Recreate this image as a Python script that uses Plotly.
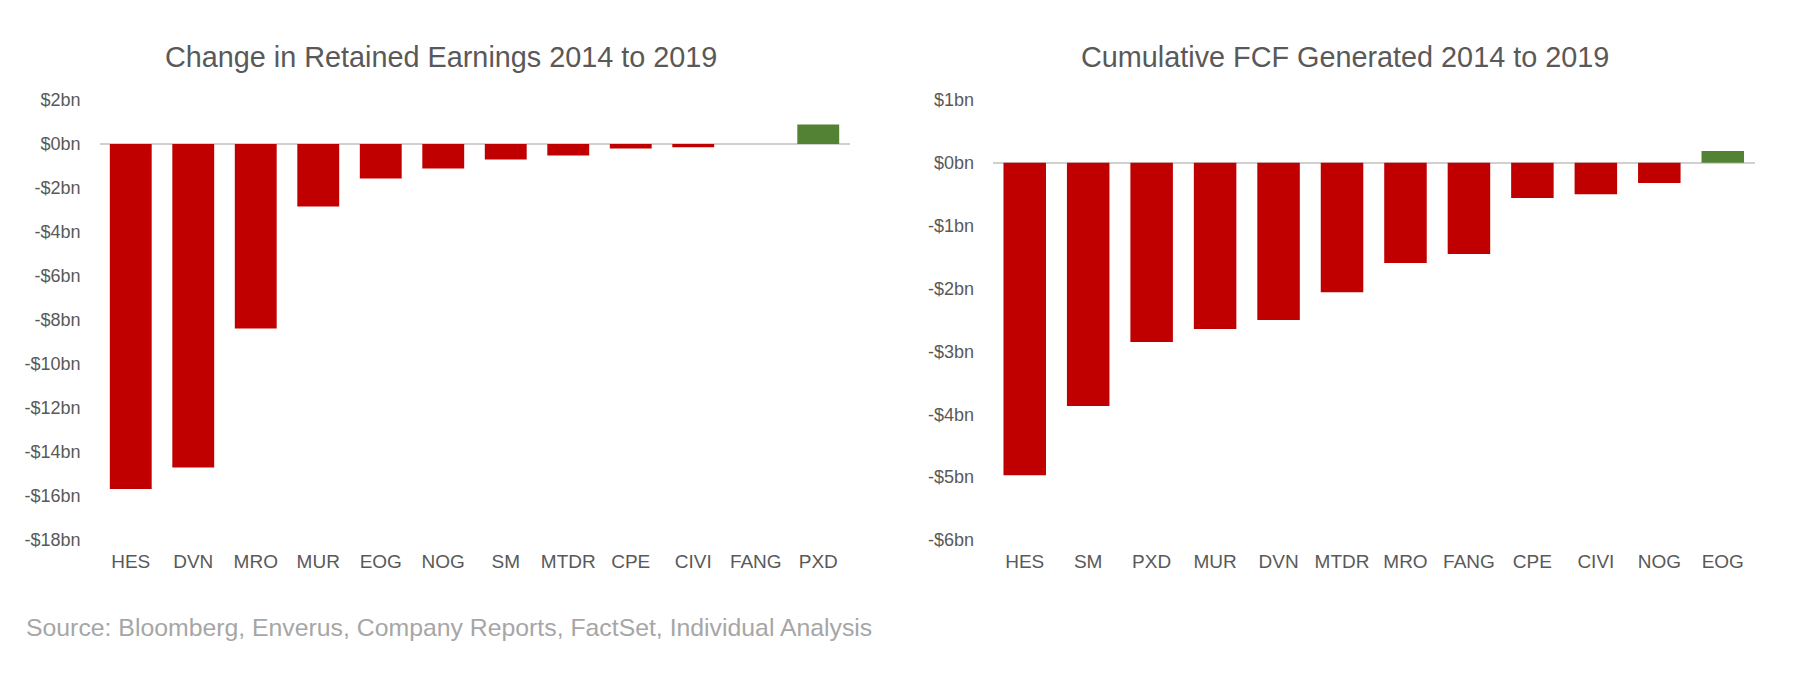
import plotly.graph_objects as go

# ---- Data ----
re_categories = ["HES", "DVN", "MRO", "MUR", "EOG", "NOG", "SM", "MTDR", "CPE", "CIVI", "FANG", "PXD"]
re_values = [-15.68, -14.7, -8.39, -2.84, -1.57, -1.11, -0.70, -0.52, -0.20, -0.15, 0.0, 0.89]

fcf_categories = ["HES", "SM", "PXD", "MUR", "DVN", "MTDR", "MRO", "FANG", "CPE", "CIVI", "NOG", "EOG"]
fcf_values = [-4.97, -3.87, -2.85, -2.645, -2.50, -2.06, -1.595, -1.45, -0.56, -0.50, -0.32, 0.19]

re_tickvals = [2, 0, -2, -4, -6, -8, -10, -12, -14, -16, -18]
re_ticktext = ["$2bn", "$0bn", "-$2bn", "-$4bn", "-$6bn", "-$8bn", "-$10bn", "-$12bn", "-$14bn", "-$16bn", "-$18bn"]
fcf_tickvals = [1, 0, -1, -2, -3, -4, -5, -6]
fcf_ticktext = ["$1bn", "$0bn", "-$1bn", "-$2bn", "-$3bn", "-$4bn", "-$5bn", "-$6bn"]

title_left = "Change in Retained Earnings 2014 to 2019"
title_right = "Cumulative FCF Generated 2014 to 2019"
source_text = "Source: Bloomberg, Enverus, Company Reports, FactSet, Individual Analysis"

RED = "#C00000"
GREEN = "#548235"
FONT = "Liberation Sans, Arial, Helvetica, sans-serif"
W, H = 1793, 680

def colors(vals):
    return [GREEN if v > 0 else RED for v in vals]

fig = go.Figure()
fig.add_trace(go.Bar(x=re_categories, y=re_values, marker_color=colors(re_values),
                     marker_line_width=0, xaxis="x", yaxis="y", showlegend=False))
fig.add_trace(go.Bar(x=fcf_categories, y=fcf_values, marker_color=colors(fcf_values),
                     marker_line_width=0, xaxis="x2", yaxis="y2", showlegend=False))

axis_font = dict(family=FONT, size=18, color="#595959")
cat_font = dict(family=FONT, size=19, color="#595959")
common_y = dict(showgrid=False, zeroline=True, zerolinecolor="#d0d0d0", zerolinewidth=2,
                showline=False, ticks="", tickfont=axis_font, ticklabelstandoff=18)
common_x = dict(showgrid=False, zeroline=False, showline=False, ticks="",
                tickfont=cat_font, ticklabelstandoff=8, type="category")

fig.update_layout(
    width=W, height=H,
    margin=dict(l=0, r=0, t=100, b=140),
    paper_bgcolor="white", plot_bgcolor="white",
    bargap=0.33,
    xaxis=dict(domain=[99.5 / W, 849.5 / W], anchor="y", **common_x),
    yaxis=dict(domain=[0, 1], anchor="x", range=[-18, 2], tickvals=re_tickvals,
               ticktext=re_ticktext, **common_y),
    xaxis2=dict(domain=[993 / W, 1754.5 / W], anchor="y2", **common_x),
    yaxis2=dict(domain=[0, 1], anchor="x2", range=[-6, 1], tickvals=fcf_tickvals,
                ticktext=fcf_ticktext, **common_y),
    font=dict(family=FONT),
)

def py(pix):
    # convert pixel y (from top) to paper y
    return (540 - pix) / 440

fig.add_annotation(text=title_left, x=441 / W, y=py(57.5), xref="paper", yref="paper",
                   xanchor="center", yanchor="middle", showarrow=False,
                   font=dict(family=FONT, size=28.8, color="#595959"))
fig.add_annotation(text=title_right, x=1345 / W, y=py(57.5), xref="paper", yref="paper",
                   xanchor="center", yanchor="middle", showarrow=False,
                   font=dict(family=FONT, size=28.8, color="#595959"))
fig.add_annotation(text=source_text, x=24 / W, y=py(627), xref="paper", yref="paper",
                   xanchor="left", yanchor="middle", showarrow=False,
                   font=dict(family=FONT, size=24.8, color="#a6a6a6"))

fig.write_html("out.html", config={"displayModeBar": False},
               post_script="document.body.style.margin='0px';")
